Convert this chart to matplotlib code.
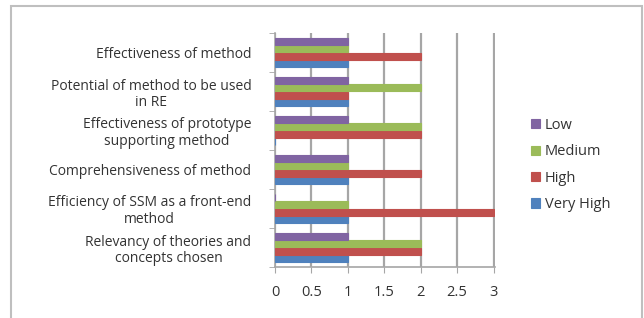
import matplotlib.pyplot as plt
import numpy as np

plt.rcParams["font.family"] = ["Open Sans", "DejaVu Sans"]

# categories, bottom to top
categories = [
    "Relevancy of theories and\nconcepts chosen",
    "Efficiency of SSM as a front-end\nmethod",
    "Comprehensiveness of method",
    "Effectiveness of prototype\nsupporting method",
    "Potential of method to be used\nin RE",
    "Effectiveness of method",
]
very_high = [1, 1, 1, 0, 1, 1]
high = [2, 3, 2, 2, 1, 2]
medium = [2, 1, 1, 2, 2, 1]
low = [1, 0, 1, 1, 1, 1]

series = [
    ("Very High", very_high, "#4F81BD"),
    ("High", high, "#C0504D"),
    ("Medium", medium, "#9BBB59"),
    ("Low", low, "#8064A2"),
]
offsets = [-0.285, -0.095, 0.095, 0.285]

fig = plt.figure(figsize=(6.44, 3.18), dpi=100)
# outer chart border
fig.patches.append(plt.Rectangle((11 / 644, -0.01), 631 / 644, 1 - 6 / 318 + 0.01,
                                 transform=fig.transFigure, fill=False,
                                 edgecolor="#BFBFBF", linewidth=1.5))

ax = fig.add_axes([275 / 644, 51 / 318, 220 / 644, 234 / 318])
y = np.arange(len(categories))
for (name, vals, col), off in zip(series, offsets):
    ax.barh(y + off, vals, height=0.17, color=col, edgecolor=col, linewidth=0.8,
            label=name, zorder=3)

ax.set_xlim(0, 3.02)
ax.set_ylim(-0.5, len(categories) - 0.5)
ax.set_xticks([0, 0.5, 1, 1.5, 2, 2.5, 3])
ax.set_xticklabels(["0", "0.5", "1", "1.5", "2", "2.5", "3"])
ax.set_yticks(y)
ax.set_yticklabels(categories, fontsize=10, color="#333333", ha="right",
                   multialignment="center", linespacing=1.15)
ax.tick_params(axis="y", length=0, pad=17)
ax.set_yticks(np.arange(-0.5, len(categories)), minor=True)
ax.tick_params(axis="y", which="minor", length=4, color="#A6A6A6")
ax.tick_params(axis="x", labelsize=10.5, colors="#333333", length=4, color="#A6A6A6", pad=9)
ax.xaxis.grid(True, color="#A6A6A6", linewidth=1.6, zorder=0)
for s in ["top", "right"]:
    ax.spines[s].set_visible(False)
for s in ["left", "bottom"]:
    ax.spines[s].set_color("#A6A6A6")
    ax.spines[s].set_linewidth(1.2)

handles, labels = ax.get_legend_handles_labels()
fig.legend(handles[::-1], labels[::-1], loc="center left",
           bbox_to_anchor=(518 / 644, 153 / 318), frameon=False,
           fontsize=10.5, handlelength=0.6, handleheight=0.6, labelspacing=0.78,
           handletextpad=0.35, labelcolor="#333333")

fig.savefig("out.png", dpi=100)
